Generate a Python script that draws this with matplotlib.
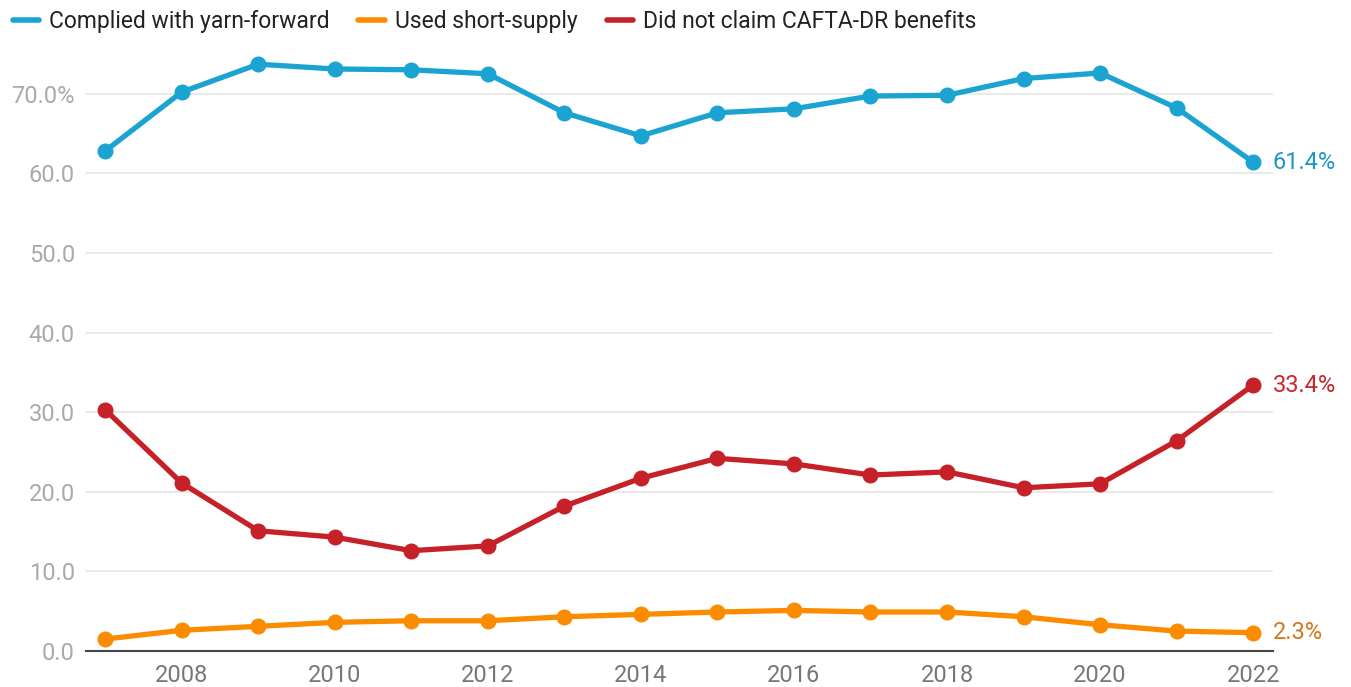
import matplotlib
matplotlib.use("Agg")
import matplotlib.pyplot as plt
from matplotlib.lines import Line2D

plt.rcParams['font.family'] = ['Roboto', 'DejaVu Sans']

years = list(range(2007, 2023))
yarn_forward = [62.8, 70.2, 73.7, 73.1, 73.0, 72.5, 67.6, 64.7, 67.6, 68.1, 69.7, 69.8, 71.9, 72.6, 68.2, 61.4]
short_supply = [1.5, 2.6, 3.1, 3.6, 3.8, 3.8, 4.3, 4.6, 4.9, 5.1, 4.9, 4.9, 4.3, 3.3, 2.5, 2.3]
no_claim = [30.3, 21.1, 15.1, 14.3, 12.6, 13.2, 18.2, 21.7, 24.2, 23.5, 22.1, 22.5, 20.5, 21.0, 26.4, 33.4]
series_names = ["Complied with yarn-forward", "Used short-supply", "Did not claim CAFTA-DR benefits"]
yticks = [0, 10, 20, 30, 40, 50, 60, 70]
ytick_labels = ["0.0", "10.0", "20.0", "30.0", "40.0", "50.0", "60.0", "70.0%"]
xticks = [2008, 2010, 2012, 2014, 2016, 2018, 2020, 2022]

colors = ["#1ba3d1", "#fb8c00", "#c62128"]
label_colors = ["#1f97c4", "#c9272e", "#d3781e"]

fig = plt.figure(figsize=(13.51, 6.87), dpi=100)
ax = fig.add_axes([0.0637, 0.0524, 0.8786, 0.875])

data = [yarn_forward, short_supply, no_claim]
for vals, c in zip(data, colors):
    ax.plot(years, vals, color=c, lw=3.8, marker='o', markersize=10.5, solid_capstyle='round', zorder=3, clip_on=False)

ax.set_xlim(2006.75, 2022.26)
ax.set_ylim(0, 75.5)
ax.set_yticks(yticks)
ax.set_yticklabels(ytick_labels)
ax.set_xticks(xticks)
ax.tick_params(axis='y', length=0, labelsize=17, labelcolor="#aaaaaa", pad=8)
ax.tick_params(axis='x', length=0, labelsize=17, labelcolor="#777777", pad=9)
ax.grid(axis='y', color="#e6e6e6", lw=1.2)
ax.set_axisbelow(True)
for s in ['top', 'right', 'left']:
    ax.spines[s].set_visible(False)
ax.spines['bottom'].set_color("#444444")
ax.spines['bottom'].set_linewidth(1.5)
ax.spines['bottom'].set_zorder(2)

# end labels
ends = [(yarn_forward[-1], label_colors[0]), (no_claim[-1], label_colors[1]), (short_supply[-1], label_colors[2])]
for v, c in ends:
    ax.annotate(f"{v:.1f}%", xy=(years[-1], v), xytext=(14, 0), textcoords='offset points',
                va='center', ha='left', fontsize=17, color=c, annotation_clip=False)

handles = [Line2D([0], [0], color=c, lw=4, solid_capstyle='round') for c in colors]
fig.legend(handles, series_names, loc='upper left', bbox_to_anchor=(-0.006, 1.015), ncol=3, frameon=False,
           fontsize=16.5, handlelength=1.15, handletextpad=0.45, columnspacing=1.25, labelcolor="#222222")

fig.savefig("out.png", dpi=100)
